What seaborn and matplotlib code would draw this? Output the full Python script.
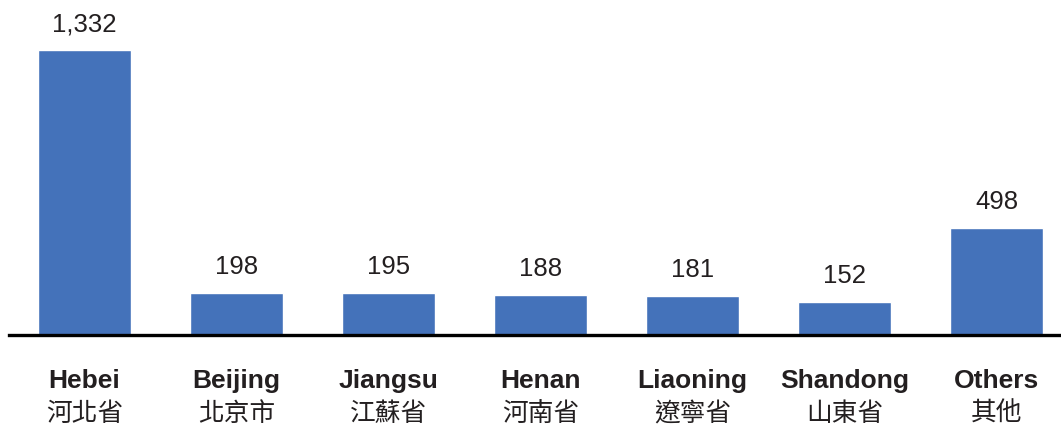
import matplotlib
matplotlib.use("Agg")
import matplotlib.pyplot as plt
import seaborn as sns
import pandas as pd

categories_en = ["Hebei", "Beijing", "Jiangsu", "Henan", "Liaoning", "Shandong", "Others"]
categories_zh = ["河北省", "北京市", "江蘇省", "河南省", "遼寧省", "山東省", "其他"]
values = [1332, 198, 195, 188, 181, 152, 498]

sns.set_theme(style="white")
plt.rcParams['font.family'] = ['Liberation Sans', 'Noto Sans CJK TC', 'DejaVu Sans']

W, H = 1061, 426
fig = plt.figure(figsize=(W / 100, H / 100), dpi=100)
ax = fig.add_axes([8.5 / W, 91 / H, 1052.5 / W, (H - 91) / H])

df = pd.DataFrame({"cat": categories_en, "val": values})
sns.barplot(data=df, x="cat", y="val", color="#4472BA", saturation=1,
            width=0.612, ax=ax)

ax.set_xlim(-0.5, -0.5 + 1052.5 / 152)
ax.set_ylim(0, 1566)
for s in ["top", "right", "left"]:
    ax.spines[s].set_visible(False)
ax.spines["bottom"].set_color("black")
ax.spines["bottom"].set_linewidth(2.4)
ax.set_xticks([])
ax.set_yticks([])
ax.set_xlabel("")
ax.set_ylabel("")

txt = "#231F20"
for i, v in enumerate(values):
    ax.annotate(f"{v:,}", xy=(i, v), xytext=(0, 26), textcoords="offset pixels",
                ha="center", va="center", fontsize=18.5, color=txt)
    ax.annotate(categories_en[i], xy=(i, 0), xycoords=("data", "axes fraction"),
                xytext=(0, -46), textcoords="offset pixels",
                ha="center", va="center", fontsize=19, fontweight="bold", color=txt)
    ax.annotate(categories_zh[i], xy=(i, 0), xycoords=("data", "axes fraction"),
                xytext=(0, -79), textcoords="offset pixels",
                ha="center", va="center", fontsize=18.5, color=txt,
                family=['Noto Sans CJK TC', 'DejaVu Sans'])

fig.savefig("out.png", dpi=100)
